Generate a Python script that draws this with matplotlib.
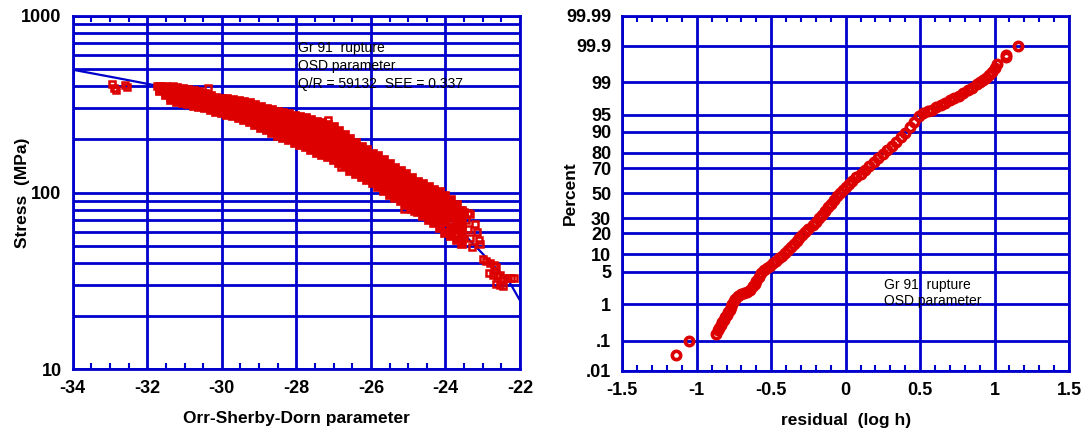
import numpy as np
import matplotlib
matplotlib.use("Agg")
import matplotlib.pyplot as plt
from matplotlib.ticker import FixedLocator, MultipleLocator, LogLocator, NullFormatter, FuncFormatter
from statistics import NormalDist

plt.rcParams['font.family'] = ['Liberation Sans', 'DejaVu Sans']
plt.rcParams['axes.unicode_minus'] = False

BLUE = '#0000cc'
RED = '#dd0000'

# ---- left panel data: stress vs Orr-Sherby-Dorn parameter ----
# dense band, read column by column (5 stress values per parameter value)
osd_param = [-31.65, -31.50, -31.35, -31.20, -31.05, -30.90, -30.75, -30.60, -30.45, -30.30,
             -30.15, -30.00, -29.85, -29.70, -29.55, -29.40, -29.25, -29.10, -28.95, -28.80,
             -28.65, -28.50, -28.35, -28.20, -28.05, -27.90, -27.75, -27.60, -27.45, -27.30,
             -27.15, -27.00, -26.85, -26.70, -26.55, -26.40, -26.25, -26.10, -25.95, -25.80,
             -25.65, -25.50, -25.35, -25.20, -25.05, -24.90, -24.75, -24.60, -24.45, -24.30,
             -24.15, -24.00, -23.85, -23.70, -23.55]
osd_stress = [
    [397, 388, 380, 373, 392], [395, 382, 370, 358, 388], [392, 378, 362, 345, 332],
    [390, 372, 355, 338, 325], [386, 368, 350, 334, 320], [380, 362, 345, 328, 316],
    [376, 357, 340, 324, 310], [370, 350, 334, 318, 306], [362, 345, 328, 313, 300],
    [352, 337, 322, 307, 294], [344, 330, 315, 300, 287], [340, 325, 310, 294, 282],
    [336, 320, 304, 289, 276], [334, 316, 299, 283, 271], [331, 312, 294, 278, 265],
    [326, 306, 288, 271, 258], [320, 300, 281, 264, 250], [312, 292, 273, 256, 242],
    [303, 284, 265, 248, 233], [296, 277, 258, 240, 225], [292, 271, 251, 233, 217],
    [287, 266, 245, 226, 210], [282, 260, 239, 220, 203], [277, 255, 233, 213, 197],
    [272, 249, 227, 207, 191], [268, 244, 221, 201, 186], [263, 239, 216, 196, 180],
    [258, 233, 210, 190, 175], [252, 227, 204, 184, 168], [247, 221, 198, 178, 163],
    [241, 216, 192, 172, 158], [235, 210, 186, 167, 153], [224, 200, 178, 160, 147],
    [212, 190, 170, 153, 141], [200, 180, 162, 146, 133], [190, 172, 155, 140, 128],
    [181, 164, 148, 134, 122], [173, 157, 142, 128, 117], [166, 150, 136, 123, 113],
    [160, 144, 130, 118, 108], [152, 137, 124, 112, 102], [145, 131, 118, 107, 97],
    [138, 125, 113, 102, 93], [132, 119, 108, 98, 89], [127, 114, 103, 94, 85],
    [121, 109, 99, 90, 81], [115, 104, 95, 86, 78], [111, 100, 91, 82, 74],
    [107, 96, 87, 78, 70], [104, 93, 83, 74, 67], [101, 90, 80, 71, 63],
    [96, 86, 77, 68, 59], [91, 82, 73, 64, 57], [85, 77, 69, 61, 54],
    [79, 72, 64, 57, 51],
]
# isolated points and the low-stress tail
extra_param = [-32.95, -32.90, -32.85, -32.60, -32.55, -31.75, -31.30, -30.37, -27.14, -26.80,
               -25.10, -24.85, -23.60, -23.50, -23.40, -23.35, -23.45, -23.40, -23.35, -23.30,
               -23.20, -23.15, -23.10, -23.07, -22.98, -22.90, -22.80, -22.70, -22.64, -22.82,
               -22.72, -22.62, -22.55, -22.45, -22.35, -22.25, -22.15, -22.65, -22.55, -22.45]
extra_stress = [410, 388, 378, 405, 395, 398, 398, 388, 257, 139,
                81, 79, 80, 78, 77, 76, 70, 62, 55, 49,
                66, 60, 54, 51, 42, 41, 40, 39, 38, 35,
                34, 33.5, 34, 33, 33, 33, 33, 30.5, 30, 29.7]
# fitted master curve
fit_param = [-34, -33, -32, -31, -30, -29, -28, -27, -26, -25, -24, -23.5, -23, -22.64, -22.3, -22]
fit_stress = [495, 452, 412, 375, 335, 292, 248, 205, 160, 120, 82, 58, 45, 37.2, 31.6, 24.5]

# ---- right panel data: residual probability plot ----
resid = [-1.14, -1.05, -0.87, -0.86, -0.85, -0.84, -0.83, -0.82, -0.81, -0.80,
         -0.79, -0.78, -0.77, -0.76, -0.75, -0.74, -0.72, -0.70, -0.68, -0.66,
         -0.64, -0.62, -0.61, -0.60, -0.58, -0.57, -0.55, -0.53, -0.51, -0.49,
         -0.47, -0.45, -0.43, -0.41, -0.39, -0.37, -0.35, -0.33, -0.31, -0.29,
         -0.27, -0.25, -0.22, -0.20, -0.18, -0.16, -0.14, -0.12, -0.10, -0.08,
         -0.06, -0.04, -0.02, 0.00, 0.02, 0.04, 0.07, 0.10, 0.13, 0.16,
         0.19, 0.22, 0.25, 0.28, 0.31, 0.34, 0.37, 0.40, 0.43, 0.46,
         0.49, 0.52, 0.55, 0.58, 0.61, 0.64, 0.67, 0.70, 0.73, 0.76,
         0.79, 0.82, 0.85, 0.88, 0.90, 0.92, 0.94, 0.96, 0.98, 1.00,
         1.02, 1.08, 1.08, 1.16]
percent = [0.035, 0.1, 0.16, 0.2, 0.24, 0.29, 0.35, 0.4, 0.47, 0.54,
           0.62, 0.73, 0.87, 1.0, 1.16, 1.3, 1.55, 1.7, 1.8, 1.9,
           2.1, 2.6, 2.9, 3.3, 4.0, 4.6, 5.3, 5.8, 6.4, 7.1,
           7.8, 8.7, 9.5, 10.6, 11.7, 12.9, 14.2, 15.6, 17.1, 18.9,
           20.9, 22.7, 25.5, 27.4, 29.8, 32.3, 35.2, 38.2, 41.3, 44.4,
           47.6, 50.4, 52.8, 55.2, 57.5, 59.9, 62.9, 65.9, 68.8, 71.6,
           74.2, 76.7, 79.1, 81.6, 83.9, 86.0, 87.9, 89.6, 91.6, 93.2,
           94.6, 95.3, 95.7, 96.0, 96.4, 96.8, 97.1, 97.4, 97.7, 97.9,
           98.2, 98.45, 98.65, 98.9, 99.02, 99.12, 99.22, 99.34, 99.46, 99.56,
           99.67, 99.78, 99.81, 99.9]
pct_ticks = [0.01, 0.1, 1, 5, 10, 20, 30, 50, 70, 80, 90, 95, 99, 99.9, 99.99]
pct_labels = ['.01', '.1', '1', '5', '10', '20', '30', '50', '70', '80', '90', '95', '99', '99.9', '99.99']

ND = NormalDist()
_ppf = np.vectorize(ND.inv_cdf, otypes=[float])
_cdf = np.vectorize(ND.cdf, otypes=[float])


def prob_fwd(p):
    p = np.clip(np.asarray(p, dtype=float), 1e-7, 100 - 1e-7)
    return _ppf(p / 100.0)


def prob_inv(z):
    return _cdf(np.asarray(z, dtype=float)) * 100.0


def style_axes(ax):
    for sp in ax.spines.values():
        sp.set_color(BLUE)
        sp.set_linewidth(2)
    ax.set_axisbelow(True)
    ax.tick_params(which='major', length=0, labelsize=13, pad=8)
    ax.tick_params(axis='x', which='minor', direction='in', top=True, bottom=True,
                   length=4, width=1.5, color=BLUE)
    ax.tick_params(axis='y', which='minor', length=0)
    for lab in ax.get_xticklabels() + ax.get_yticklabels():
        lab.set_fontweight('bold')


fig = plt.figure(figsize=(10.87, 4.33), dpi=100)
ax1 = fig.add_axes([0.0669, 0.1471, 0.4115, 0.8166])
ax2 = fig.add_axes([0.5725, 0.1443, 0.4109, 0.8194])

# left panel
xs = np.repeat(osd_param, 5)
ys = np.array(osd_stress, dtype=float).ravel()
ax1.plot(fit_param, fit_stress, color=BLUE, lw=1.6, zorder=2.5)
ax1.plot(xs, ys, ls='none', marker='s', ms=5.5, mfc=RED, mec=RED, mew=1.2, zorder=3)
ax1.plot(extra_param, extra_stress, ls='none', marker='s', ms=4.5, mfc='none', mec=RED, mew=1.8, zorder=3)

ax1.set_yscale('log')
ax1.set_xlim(-34, -22)
ax1.set_ylim(10, 1000)
ax1.xaxis.set_major_locator(MultipleLocator(2))
ax1.xaxis.set_minor_locator(MultipleLocator(0.5))
ax1.xaxis.set_major_formatter(FuncFormatter(lambda v, p: f'{v:g}'))
ax1.yaxis.set_major_locator(FixedLocator([10, 100, 1000]))
ax1.yaxis.set_minor_locator(LogLocator(base=10, subs=range(2, 10)))
ax1.yaxis.set_major_formatter(FuncFormatter(lambda v, p: f'{v:g}'))
ax1.yaxis.set_minor_formatter(NullFormatter())
ax1.grid(True, which='major', axis='x', color=BLUE, lw=2)
ax1.grid(True, which='both', axis='y', color=BLUE, lw=2)
style_axes(ax1)
ax1.set_xlabel('Orr-Sherby-Dorn parameter', fontsize=12.5, fontweight='bold', labelpad=10)
ax1.set_ylabel('Stress  (MPa)', fontsize=12.5, fontweight='bold')
ax1.yaxis.set_label_coords(-0.095, 0.5)
ax1.text(0.504, 0.928, 'Gr 91  rupture\nOSD parameter\nQ/R = 59132  SEE = 0.337',
         transform=ax1.transAxes, va='top', ha='left', fontsize=10, linespacing=1.35)

# right panel
ax2.plot(resid, percent, ls='none', marker='o', ms=6, mfc='none', mec=RED, mew=2.6, zorder=3)
ax2.set_yscale('function', functions=(prob_fwd, prob_inv))
ax2.set_ylim(0.01, 99.99)
ax2.set_xlim(-1.5, 1.5)
ax2.yaxis.set_major_locator(FixedLocator(pct_ticks))
ax2.yaxis.set_major_formatter(FuncFormatter(lambda v, p: pct_labels[p] if p is not None and p < len(pct_labels) else ''))
ax2.yaxis.set_minor_locator(plt.NullLocator())
ax2.xaxis.set_major_locator(MultipleLocator(0.5))
ax2.xaxis.set_minor_locator(MultipleLocator(0.1))
ax2.xaxis.set_major_formatter(FuncFormatter(lambda v, p: f'{v:g}'))
ax2.grid(True, which='major', color=BLUE, lw=2)
style_axes(ax2)
ax2.set_xlabel('residual  (log h)', fontsize=12.5, fontweight='bold', labelpad=10)
ax2.set_ylabel('Percent', fontsize=12.5, fontweight='bold')
ax2.yaxis.set_label_coords(-0.099, 0.5)
ax2.text(0.586, 0.262, 'Gr 91  rupture\nOSD parameter', transform=ax2.transAxes,
         va='top', ha='left', fontsize=10, linespacing=1.2)

fig.savefig('out.png', dpi=100)
